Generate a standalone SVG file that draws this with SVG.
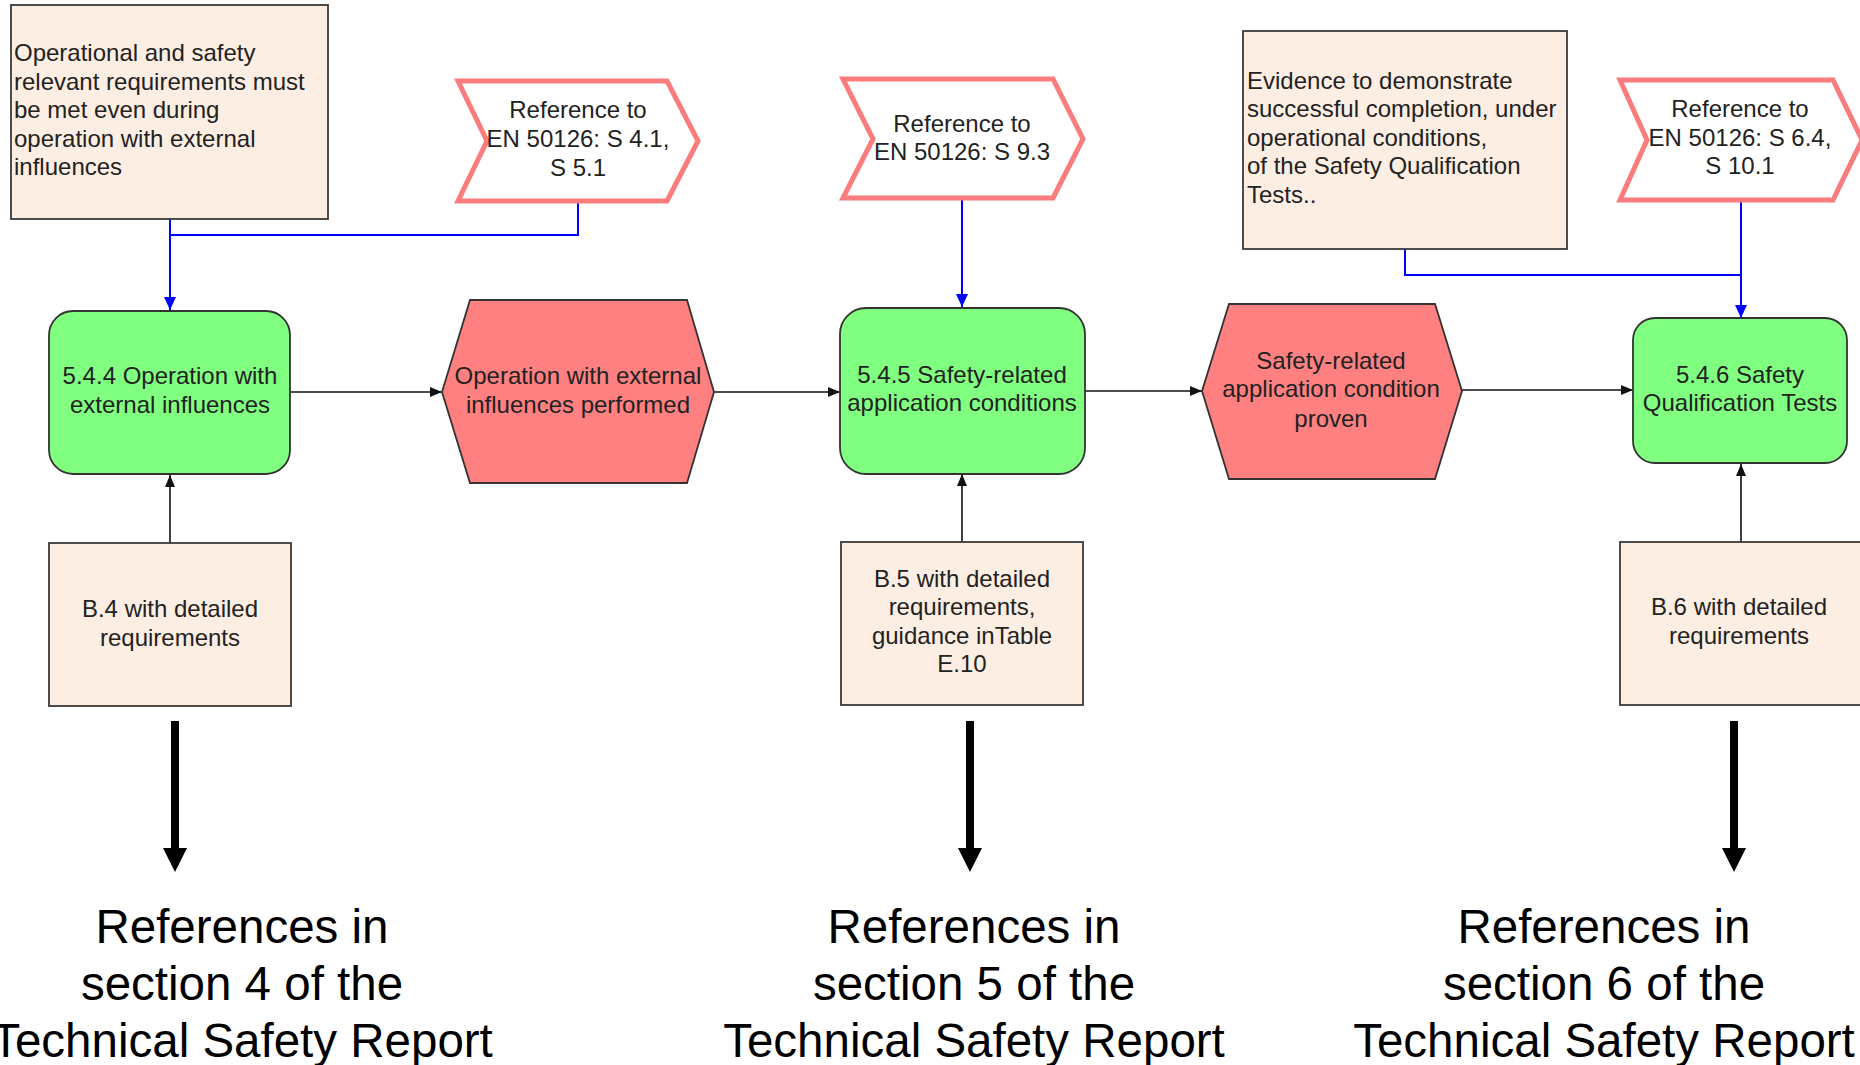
<svg xmlns="http://www.w3.org/2000/svg" width="1860" height="1065" viewBox="0 0 1860 1065">
  <style>
    text { font-family: "Liberation Sans", Arial, sans-serif; fill: #222; }
    .t24 { font-size: 24px; }
    .mid { text-anchor: middle; }
    .big { font-size: 47.5px; fill: #000; text-anchor: middle; }
    .note { fill: #FDEEE3; stroke: #3a3a3a; stroke-width: 1.8; }
    .func { fill: #80FF80; stroke: #333; stroke-width: 1.8; }
    .event { fill: #FF8080; stroke: #333; stroke-width: 1.8; }
    .ref { fill: #fff; stroke: #FA7C7C; stroke-width: 5; stroke-linejoin: miter; }
    .flow { fill: none; stroke: #111; stroke-width: 1.6; }
    .info { fill: none; stroke: #0000FF; stroke-width: 2; }
    .thick { fill: none; stroke: #000; stroke-width: 8; }
  </style>
  <defs>
    <marker id="arrBlack" markerUnits="userSpaceOnUse" markerWidth="12" markerHeight="10" refX="12" refY="5" orient="auto">
      <path d="M0,0 L12,5 L0,10 z" fill="#111"/>
    </marker>
    <marker id="arrBlue" markerUnits="userSpaceOnUse" markerWidth="13" markerHeight="12" refX="13" refY="6" orient="auto">
      <path d="M0,0 L13,6 L0,12 z" fill="#0000FF"/>
    </marker>
  </defs>

  <!-- connectors -->
  <g id="connectors">
    <!-- information links (blue) -->
    <polyline class="info" points="578,202 578,235 170,235"/>
    <line class="info" x1="170" y1="219" x2="170" y2="310" marker-end="url(#arrBlue)"/>
    <line class="info" x1="962" y1="199" x2="962" y2="307" marker-end="url(#arrBlue)"/>
    <polyline class="info" points="1405,249 1405,275 1741,275"/>
    <line class="info" x1="1741" y1="201" x2="1741" y2="318" marker-end="url(#arrBlue)"/>

    <!-- process flow (black) -->
    <line class="flow" x1="291" y1="392" x2="442" y2="392" marker-end="url(#arrBlack)"/>
    <line class="flow" x1="714" y1="392" x2="840" y2="392" marker-end="url(#arrBlack)"/>
    <line class="flow" x1="1085" y1="391" x2="1202" y2="391" marker-end="url(#arrBlack)"/>
    <line class="flow" x1="1462" y1="390" x2="1633" y2="390" marker-end="url(#arrBlack)"/>

    <!-- requirement boxes feeding the functions -->
    <line class="flow" x1="170" y1="543" x2="170" y2="475" marker-end="url(#arrBlack)"/>
    <line class="flow" x1="962" y1="542" x2="962" y2="474" marker-end="url(#arrBlack)"/>
    <line class="flow" x1="1741" y1="542" x2="1741" y2="464" marker-end="url(#arrBlack)"/>

    <!-- thick arrows down to the report sections -->
    <line class="thick" x1="175" y1="721" x2="175" y2="850"/>
    <polygon points="163,848 187,848 175,872" fill="#000"/>
    <line class="thick" x1="970" y1="721" x2="970" y2="850"/>
    <polygon points="958,848 982,848 970,872" fill="#000"/>
    <line class="thick" x1="1734" y1="721" x2="1734" y2="850"/>
    <polygon points="1722,848 1746,848 1734,872" fill="#000"/>
  </g>

  <!-- section 4 -->
  <g id="note-operational">
    <rect class="note" x="11" y="5" width="317" height="214"/>
    <text class="t24" x="14" y="61">Operational and safety</text>
    <text class="t24" x="14" y="90">relevant requirements must</text>
    <text class="t24" x="14" y="118">be met even during</text>
    <text class="t24" x="14" y="147">operation with external</text>
    <text class="t24" x="14" y="175">influences</text>
  </g>

  <g id="ref-4-1">
    <polygon class="ref" points="458,81 667,81 698,141 667,201 458,201 487,141"/>
    <text class="t24 mid" x="578" y="118">Reference to</text>
    <text class="t24 mid" x="578" y="147">EN 50126: S 4.1,</text>
    <text class="t24 mid" x="578" y="176">S 5.1</text>
  </g>

  <g id="func-5-4-4">
    <rect class="func" x="49" y="311" width="241" height="163" rx="24" ry="24"/>
    <text class="t24 mid" x="170" y="384">5.4.4 Operation with</text>
    <text class="t24 mid" x="170" y="413">external influences</text>
  </g>

  <g id="event-external">
    <polygon class="event" points="442,392 470,300 687,300 714,392 687,483 470,483"/>
    <text class="t24 mid" x="578" y="384">Operation with external</text>
    <text class="t24 mid" x="578" y="413">influences performed</text>
  </g>

  <g id="req-b4">
    <rect class="note" x="49" y="543" width="242" height="163"/>
    <text class="t24 mid" x="170" y="617">B.4 with detailed</text>
    <text class="t24 mid" x="170" y="646">requirements</text>
  </g>

  <g id="report-section-4">
    <text class="big" x="242" y="943">References in</text>
    <text class="big" x="242" y="1000">section 4 of the</text>
    <text class="big" x="242" y="1057">Technical Safety Report</text>
  </g>

  <!-- section 5 -->
  <g id="ref-9-3">
    <polygon class="ref" points="843,79 1053,79 1083,139 1053,198 843,198 873,139"/>
    <text class="t24 mid" x="962" y="132">Reference to</text>
    <text class="t24 mid" x="962" y="160">EN 50126: S 9.3</text>
  </g>

  <g id="func-5-4-5">
    <rect class="func" x="840" y="308" width="245" height="166" rx="26" ry="26"/>
    <text class="t24 mid" x="962" y="383">5.4.5 Safety-related</text>
    <text class="t24 mid" x="962" y="411">application conditions</text>
  </g>

  <g id="event-proven">
    <polygon class="event" points="1202,391 1229,304 1435,304 1462,391 1435,479 1229,479"/>
    <text class="t24 mid" x="1331" y="369">Safety-related</text>
    <text class="t24 mid" x="1331" y="397">application condition</text>
    <text class="t24 mid" x="1331" y="427">proven</text>
  </g>

  <g id="req-b5">
    <rect class="note" x="841" y="542" width="242" height="163"/>
    <text class="t24 mid" x="962" y="587">B.5 with detailed</text>
    <text class="t24 mid" x="962" y="615">requirements,</text>
    <text class="t24 mid" x="962" y="644">guidance inTable</text>
    <text class="t24 mid" x="962" y="672">E.10</text>
  </g>

  <g id="report-section-5">
    <text class="big" x="974" y="943">References in</text>
    <text class="big" x="974" y="1000">section 5 of the</text>
    <text class="big" x="974" y="1057">Technical Safety Report</text>
  </g>

  <!-- section 6 -->
  <g id="note-evidence">
    <rect class="note" x="1243" y="31" width="324" height="218"/>
    <text class="t24" x="1247" y="89">Evidence to demonstrate</text>
    <text class="t24" x="1247" y="117">successful completion, under</text>
    <text class="t24" x="1247" y="146">operational conditions,</text>
    <text class="t24" x="1247" y="174">of the Safety Qualification</text>
    <text class="t24" x="1247" y="203">Tests..</text>
  </g>

  <g id="ref-6-4">
    <polygon class="ref" points="1620,80 1833,80 1862,140 1833,200 1620,200 1647,140"/>
    <text class="t24 mid" x="1740" y="117">Reference to</text>
    <text class="t24 mid" x="1740" y="146">EN 50126: S 6.4,</text>
    <text class="t24 mid" x="1740" y="174">S 10.1</text>
  </g>

  <g id="func-5-4-6">
    <rect class="func" x="1633" y="318" width="214" height="145" rx="22" ry="22"/>
    <text class="t24 mid" x="1740" y="383">5.4.6 Safety</text>
    <text class="t24 mid" x="1740" y="411">Qualification Tests</text>
  </g>

  <g id="req-b6">
    <rect class="note" x="1620" y="542" width="245" height="163"/>
    <text class="t24 mid" x="1739" y="615">B.6 with detailed</text>
    <text class="t24 mid" x="1739" y="644">requirements</text>
  </g>

  <g id="report-section-6">
    <text class="big" x="1604" y="943">References in</text>
    <text class="big" x="1604" y="1000">section 6 of the</text>
    <text class="big" x="1604" y="1057">Technical Safety Report</text>
  </g>
</svg>
